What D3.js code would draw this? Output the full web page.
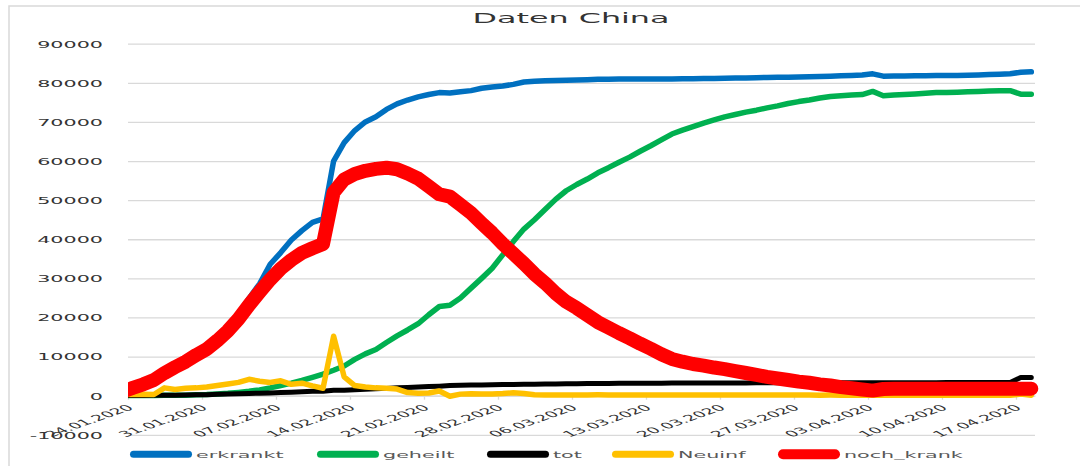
<!DOCTYPE html>
<html><head><meta charset="utf-8">
<script src="https://cdn.jsdelivr.net/npm/d3@7"></script>
<style>body{margin:0;background:#fff}svg{display:block}</style>
</head><body><svg id="c" width="1080" height="466"></svg>
<script>
const dates = [
"24.01.2020","25.01.2020","26.01.2020","27.01.2020","28.01.2020","29.01.2020","30.01.2020","31.01.2020",
"01.02.2020","02.02.2020","03.02.2020","04.02.2020","05.02.2020","06.02.2020","07.02.2020","08.02.2020","09.02.2020","10.02.2020",
"11.02.2020","12.02.2020","13.02.2020","14.02.2020","15.02.2020","16.02.2020","17.02.2020","18.02.2020","19.02.2020","20.02.2020",
"21.02.2020","22.02.2020","23.02.2020","24.02.2020","25.02.2020","26.02.2020","27.02.2020","28.02.2020","29.02.2020",
"01.03.2020","02.03.2020","03.03.2020","04.03.2020","05.03.2020","06.03.2020","07.03.2020","08.03.2020","09.03.2020","10.03.2020",
"11.03.2020","12.03.2020","13.03.2020","14.03.2020","15.03.2020","16.03.2020","17.03.2020","18.03.2020","19.03.2020","20.03.2020",
"21.03.2020","22.03.2020","23.03.2020","24.03.2020","25.03.2020","26.03.2020","27.03.2020","28.03.2020","29.03.2020","30.03.2020","31.03.2020",
"01.04.2020","02.04.2020","03.04.2020","04.04.2020","05.04.2020","06.04.2020","07.04.2020","08.04.2020","09.04.2020","10.04.2020",
"11.04.2020","12.04.2020","13.04.2020","14.04.2020","15.04.2020","16.04.2020","17.04.2020","18.04.2020","19.04.2020"];

const tickLabels = ["24.01.2020","31.01.2020","07.02.2020","14.02.2020","21.02.2020","28.02.2020","06.03.2020",
"13.03.2020","20.03.2020","27.03.2020","03.04.2020","10.04.2020","17.04.2020"];

const yTicks = [-10000,0,10000,20000,30000,40000,50000,60000,70000,80000,90000];

const erkrankt = [1060,2080,3010,4140,6030,7550,9010,10820,12440,14920,
17650,20940,24880,28610,33600,36600,39800,42200,44300,45200,
60000,64700,67800,70000,71300,73200,74600,75600,76400,77000,
77500,77400,77700,78000,78600,78950,79200,79600,80200,80400,
80500,80600,80650,80700,80800,80900,80900,80950,80950,81000,
81000,81000,81000,81050,81050,81100,81100,81150,81200,81250,
81300,81350,81400,81450,81500,81550,81600,81700,81800,81900,
82000,82300,81700,81750,81750,81800,81800,81850,81850,81900,
81950,82000,82100,82200,82300,82700,82800];

const geheilt = [30,40,50,60,100,120,140,210,280,460,
620,850,1120,1480,2000,2600,3200,3900,4700,5500,
6500,7600,9300,10700,11800,13600,15300,16800,18400,20700,
22800,23100,25000,27500,30000,32600,36000,39400,42600,45000,
47600,50200,52400,54000,55400,57000,58300,59700,61000,62500,
63900,65400,66900,67900,68800,69700,70500,71300,71900,72500,
73000,73600,74100,74700,75200,75600,76100,76500,76700,76900,
77000,77800,76700,76900,77000,77150,77350,77500,77550,77600,
77700,77800,77900,78000,78000,77100,77100];

const tot = [26,42,56,82,131,133,171,213,259,361,
425,490,562,632,717,804,904,1011,1111,1116,
1368,1381,1524,1666,1772,1870,2006,2121,2239,2348,
2445,2595,2666,2718,2747,2791,2838,2873,2915,2946,
2984,3015,3045,3073,3100,3123,3140,3162,3173,3180,
3194,3204,3218,3231,3242,3249,3253,3259,3274,3274,
3281,3285,3291,3296,3299,3304,3308,3309,3316,3322,
3326,3330,3333,3335,3335,3337,3339,3340,3343,3343,
3345,3345,3346,3346,3346,4636,4636];

const neuinf = [250,300,350,300,2000,1600,1900,2000,2200,2600,
3000,3400,4200,3700,3400,3800,2900,3200,2500,1900,
15200,4800,2600,2200,2000,1900,1700,800,600,700,
1200,-150,400,500,450,450,550,750,550,250,
200,200,180,190,200,210,190,180,200,200,
190,180,200,190,180,170,190,200,180,170,
160,170,160,150,160,150,140,150,140,130,
130,120,110,110,100,100,100,100,100,100,
100,100,100,100,100,400,100];

const nochKrank = [1000,2000,2900,4000,5800,7300,8700,10400,11900,14100,
16600,19600,23200,26500,29700,32500,34700,36500,37700,38800,
52000,55300,56700,57500,58000,58300,57900,56800,55500,53500,
51500,50900,48800,46700,44100,41600,38800,36300,33800,31100,
28800,26200,24000,22400,20600,18800,17400,16000,14700,13300,
12000,10600,9400,8700,8100,7700,7200,6800,6300,5800,
5300,4800,4400,4000,3600,3300,2900,2600,2200,1900,
1600,1300,1700,1750,1800,1800,1800,1800,1800,1800,
1800,1800,1800,1800,1800,1800,1800];

const seriesNames = ["erkrankt","geheilt","tot","Neuinf","noch_krank"];
const seriesValues = [erkrankt, geheilt, tot, neuinf, nochKrank];
const seriesColors = ["#0070C0","#00B050","#000000","#FFC000","#FF0000"];
const title = "Daten China";

// ---- layout ----
const SX = 2.25;               // horizontal text stretch seen in the picture
const FONT = "DejaVu Sans";
const PL = 128, PR = 1035, PT = 43.7, PB = 434.8;
const OFF = 0.55;               // data points sit a bit left of the date ticks
const lineW = [5.5, 5.5, 5, 5.5, 14];
const legendX = [130, 317, 487, 612, 778];
const legendY = 454.3;

const svg = d3.select("#c");
svg.append("rect").attr("width",1080).attr("height",466).attr("fill","#fff");
svg.append("rect").attr("x",9).attr("y",6).attr("width",1200).attr("height",600)
  .attr("fill","none").attr("stroke","#d9d9d9").attr("stroke-width",1.5);

const y = d3.scaleLinear().domain([yTicks[0], yTicks[yTicks.length-1]]).range([PB, PT]);
const x = d3.scaleLinear().domain([0, 85.8]).range([PL, PR]);

// gridlines
svg.append("g").attr("transform",`translate(${PL},0)`)
  .call(d3.axisLeft(y).tickValues(yTicks).tickSize(-(PR-PL)).tickFormat(""))
  .call(g => { g.select(".domain").remove();
    g.selectAll("line").attr("stroke","#d9d9d9").attr("stroke-width",1.3); });

// y labels
const ya = svg.append("g").attr("transform","translate(103,0)")
  .call(d3.axisLeft(y).tickValues(yTicks).tickSize(0).tickPadding(0).tickFormat(d => String(d)));
ya.select(".domain").remove();
ya.selectAll("text").attr("x",0).attr("dy","0.37em")
  .attr("transform",`scale(${SX},1)`)
  .attr("font-family",FONT).attr("font-size",9.2).attr("fill","#333");

// x axis
const tickIdx = tickLabels.map(l => dates.indexOf(l));
const xa = svg.append("g").attr("transform",`translate(0,${y(0)})`)
  .call(d3.axisBottom(x).tickValues(tickIdx).tickSize(4).tickSizeOuter(0)
    .tickFormat(d => dates[d]));
xa.select(".domain").attr("stroke","#d9d9d9").attr("stroke-width",1.3);
xa.selectAll(".tick line").attr("stroke","#d9d9d9").attr("stroke-width",1.3);
xa.selectAll("text").attr("y",null).attr("dy",null)
  .attr("transform",`translate(6,13) scale(${SX},1) rotate(-38)`)
  .attr("text-anchor","end")
  .attr("font-family",FONT).attr("font-size",8.2).attr("fill","#333");

// lines
svg.append("clipPath").attr("id","pc").append("rect")
  .attr("x",PL).attr("y",0).attr("width",1080-PL).attr("height",466);
const line = d3.line().x((d,i) => x(i - OFF)).y(d => y(d));
seriesValues.forEach((vals, k) => {
  svg.append("path").datum(vals).attr("clip-path","url(#pc)")
    .attr("d", line).attr("fill","none")
    .attr("stroke", seriesColors[k]).attr("stroke-width", lineW[k])
    .attr("stroke-linejoin","round").attr("stroke-linecap","round");
});

// title
svg.append("text").attr("transform",`translate(571,22.7) scale(2.27,1)`)
  .attr("text-anchor","middle").attr("font-family",FONT).attr("font-size",14)
  .attr("fill","#333").text(title);

// legend
seriesNames.forEach((name, k) => {
  const lx = legendX[k];
  const w = k === 4 ? 10 : 7;
  svg.append("line").attr("x1",lx + w/2).attr("x2",lx + 62 - w/2)
    .attr("y1",legendY).attr("y2",legendY)
    .attr("stroke",seriesColors[k]).attr("stroke-width",w).attr("stroke-linecap","round");
  svg.append("text").attr("transform",`translate(${lx + 66},${legendY + 3.2}) scale(${SX},1)`)
    .attr("font-family",FONT).attr("font-size",9.2).attr("fill","#595959").text(name);
});
</script>
</body></html>
